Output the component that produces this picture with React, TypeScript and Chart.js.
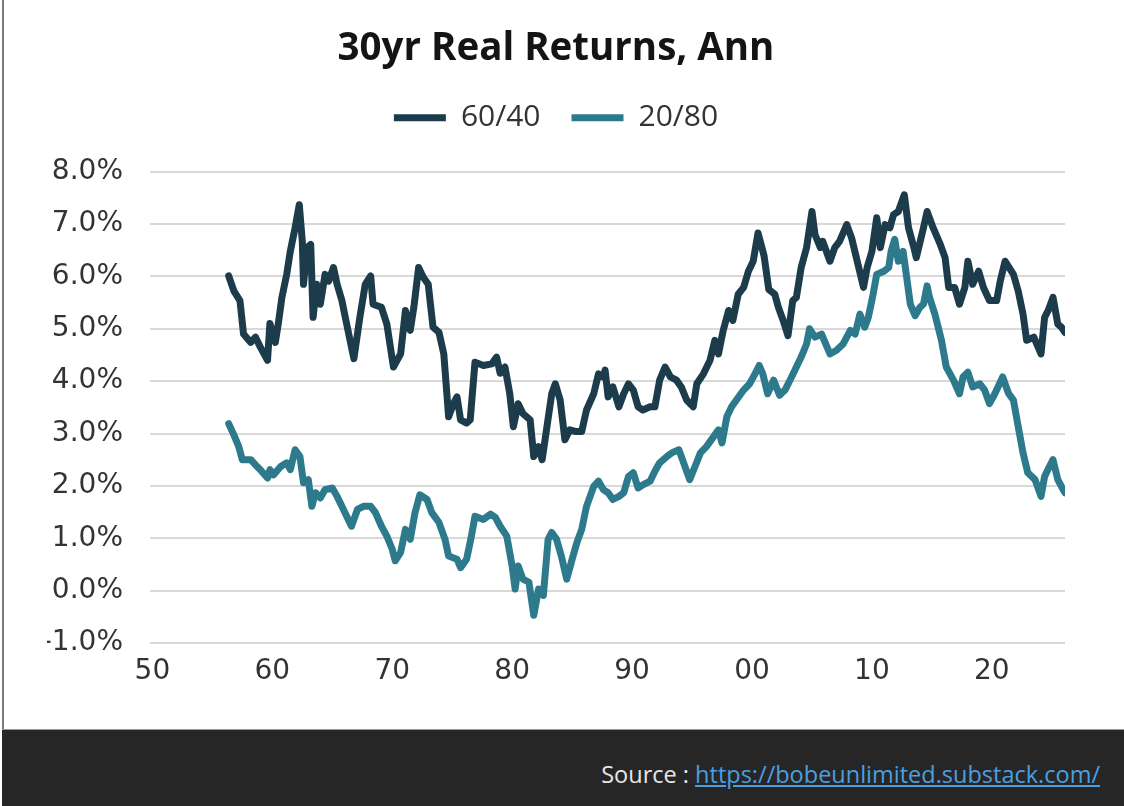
import React, { useEffect, useRef } from 'react';
import { Chart, registerables } from 'chart.js';

Chart.register(...registerables);

const TITLE = '30yr Real Returns, Ann';
const SERIES_NAMES = ['60/40', '20/80'];
const SERIES_COLORS = ['#1c3b4b', '#2e7a8d'];
const X_TICKS = [1950, 1960, 1970, 1980, 1990, 2000, 2010, 2020];
const Y_MIN = -1;
const Y_MAX = 8;

const years6040 = [
  1956.36, 1956.8, 1957.3, 1957.6, 1958.2, 1958.6, 1959.0, 1959.6, 1959.8, 1960.25,
  1960.5, 1960.8, 1961.2, 1961.5, 1961.9, 1962.25, 1962.5, 1962.6, 1962.9, 1963.2,
  1963.4, 1963.7, 1964.0, 1964.4, 1964.7, 1965.1, 1965.4, 1965.8, 1966.2, 1966.8,
  1967.3, 1967.75, 1968.2, 1968.4, 1969.1, 1969.55, 1970.1, 1970.7, 1971.1, 1971.5,
  1971.8, 1972.2, 1972.6, 1973.0, 1973.4, 1973.9, 1974.3, 1974.7, 1975.1, 1975.4,
  1975.7, 1976.2, 1976.5, 1976.9, 1977.6, 1978.3, 1978.7, 1979.0, 1979.4, 1979.8,
  1980.1, 1980.5, 1980.9, 1981.5, 1981.8, 1982.2, 1982.5, 1982.9, 1983.3, 1983.6,
  1984.0, 1984.4, 1984.8, 1985.25, 1985.8, 1986.2, 1986.8, 1987.2, 1987.6, 1987.75,
  1988.0, 1988.4, 1988.9, 1989.3, 1989.7, 1990.1, 1990.5, 1990.9, 1991.5, 1991.9,
  1992.3, 1992.75, 1993.2, 1993.7, 1994.1, 1994.55, 1995.1, 1995.4, 1995.95, 1996.5,
  1996.9, 1997.2, 1997.6, 1998.05, 1998.4, 1998.85, 1999.3, 1999.7, 2000.1, 2000.5,
  2001.0, 2001.4, 2001.9, 2002.2, 2002.6, 2003.0, 2003.4, 2003.7, 2004.1, 2004.55,
  2005.0, 2005.25, 2005.7, 2005.9, 2006.5, 2006.9, 2007.3, 2007.9, 2008.3, 2008.7,
  2009.3, 2009.6, 2010.0, 2010.4, 2010.7, 2011.1, 2011.5, 2011.8, 2012.2, 2012.7,
  2013.05, 2013.5, 2013.7, 2014.3, 2014.6, 2015.1, 2015.7, 2016.1, 2016.4, 2016.9,
  2017.3, 2017.75, 2018.0, 2018.4, 2018.9, 2019.3, 2019.8, 2020.4, 2020.7, 2021.1,
  2021.8, 2022.2, 2022.6, 2022.9, 2023.5, 2024.1, 2024.4, 2024.7, 2025.1, 2025.5,
  2025.8, 2026.1,
];
const values6040 = [
  6.01, 5.72, 5.54, 4.9, 4.74, 4.84, 4.65, 4.4, 5.1, 4.74,
  5.1, 5.6, 6.04, 6.48, 6.93, 7.37, 6.67, 5.85, 6.55, 6.61,
  5.22, 5.85, 5.47, 6.04, 5.91, 6.17, 5.85, 5.54, 5.09, 4.43,
  5.22, 5.85, 6.01, 5.47, 5.41, 5.09, 4.27, 4.52, 5.35, 4.97,
  5.41, 6.17, 5.98, 5.85, 5.03, 4.93, 4.52, 3.32, 3.57, 3.7,
  3.26, 3.2, 3.26, 4.36, 4.3, 4.33, 4.46, 4.15, 4.27, 3.76,
  3.13, 3.57, 3.38, 3.26, 2.56, 2.75, 2.5, 3.13, 3.76, 3.95,
  3.64, 2.88, 3.07, 3.04, 3.04, 3.45, 3.76, 4.14, 4.08, 4.21,
  3.7, 3.89, 3.51, 3.76, 3.95, 3.83, 3.51, 3.45, 3.51, 3.51,
  4.02, 4.27, 4.08, 4.02, 3.89, 3.64, 3.51, 3.95, 4.14, 4.4,
  4.78, 4.52, 4.97, 5.35, 5.16, 5.66, 5.79, 6.1, 6.29, 6.83,
  6.4, 5.75, 5.66, 5.41, 5.16, 4.87, 5.54, 5.6, 6.17, 6.55,
  7.24, 6.8, 6.55, 6.67, 6.29, 6.55, 6.67, 6.99, 6.74, 6.36,
  5.79, 6.17, 6.48, 7.12, 6.55, 6.99, 6.93, 7.18, 7.24, 7.56,
  6.93, 6.55, 6.36, 6.93, 7.24, 6.93, 6.61, 6.36, 5.79, 5.79,
  5.47, 5.79, 6.29, 5.85, 6.1, 5.79, 5.54, 5.54, 5.91, 6.29,
  6.04, 5.72, 5.28, 4.78, 4.84, 4.52, 5.22, 5.35, 5.6, 5.09,
  5.03, 4.93,
];

const years2080 = [
  1956.36, 1956.8, 1957.2, 1957.5, 1958.2, 1958.6, 1959.0, 1959.6, 1959.8, 1960.1,
  1960.7, 1961.2, 1961.5, 1961.9, 1962.3, 1962.6, 1963.0, 1963.3, 1963.6, 1964.0,
  1964.4, 1965.0, 1965.4, 1965.8, 1966.2, 1966.6, 1967.1, 1967.6, 1968.2, 1968.6,
  1969.1, 1969.55, 1970.0, 1970.25, 1970.7, 1971.1, 1971.5, 1971.9, 1972.3, 1972.9,
  1973.3, 1973.9, 1974.4, 1974.7, 1975.4, 1975.7, 1976.2, 1976.55, 1976.9, 1977.6,
  1978.2, 1978.6, 1979.0, 1979.55, 1980.0, 1980.25, 1980.5, 1980.9, 1981.4, 1981.8,
  1982.2, 1982.6, 1983.0, 1983.3, 1983.7, 1984.1, 1984.55, 1985.0, 1985.4, 1985.8,
  1986.2, 1986.8, 1987.2, 1987.6, 1988.0, 1988.4, 1988.9, 1989.3, 1989.7, 1990.1,
  1990.5, 1990.9, 1991.5, 1991.9, 1992.3, 1992.9, 1993.3, 1993.9, 1994.3, 1994.8,
  1995.25, 1995.7, 1996.2, 1996.8, 1997.2, 1997.5, 1997.9, 1998.3, 1998.7, 1999.3,
  1999.8, 2000.25, 2000.6, 2000.9, 2001.3, 2001.8, 2002.3, 2002.75, 2003.3, 2003.7,
  2004.1, 2004.55, 2004.8, 2005.25, 2005.8, 2006.5, 2007.05, 2007.6, 2008.2, 2008.6,
  2009.0, 2009.4, 2009.7, 2010.1, 2010.4, 2011.0, 2011.4, 2011.6, 2011.9, 2012.2,
  2012.6, 2012.9, 2013.2, 2013.6, 2014.0, 2014.3, 2014.6, 2014.8, 2015.25, 2015.8,
  2016.2, 2016.8, 2017.3, 2017.6, 2018.0, 2018.4, 2019.0, 2019.4, 2019.8, 2020.25,
  2020.9, 2021.4, 2021.8, 2022.2, 2022.6, 2023.0, 2023.6, 2024.1, 2024.4, 2024.8,
  2025.1, 2025.5, 2025.8, 2026.1,
];
const values2080 = [
  3.19, 2.97, 2.75, 2.5, 2.5, 2.4, 2.31, 2.15, 2.31, 2.21,
  2.37, 2.44, 2.31, 2.69, 2.56, 2.06, 2.12, 1.61, 1.87, 1.77,
  1.93, 1.96, 1.8, 1.61, 1.42, 1.23, 1.55, 1.61, 1.61, 1.49,
  1.23, 1.04, 0.79, 0.57, 0.73, 1.17, 0.98, 1.49, 1.83, 1.74,
  1.49, 1.3, 0.98, 0.66, 0.6, 0.44, 0.6, 0.98, 1.42, 1.36,
  1.46, 1.4, 1.23, 1.04, 0.47, 0.03, 0.47, 0.22, 0.16, -0.47,
  0.03, -0.09, 0.98, 1.11, 0.98, 0.66, 0.22, 0.6, 0.92, 1.17,
  1.61, 1.99, 2.09, 1.93, 1.87, 1.74, 1.8, 1.87, 2.18, 2.25,
  1.96, 2.02, 2.09, 2.28, 2.44, 2.56, 2.63, 2.69, 2.44, 2.12,
  2.37, 2.63, 2.75, 2.94, 3.07, 2.82, 3.32, 3.51, 3.64, 3.83,
  3.95, 4.14, 4.3, 4.14, 3.76, 4.02, 3.73, 3.83, 4.08, 4.27,
  4.46, 4.71, 5.0, 4.84, 4.9, 4.52, 4.59, 4.71, 4.97, 4.9,
  5.28, 5.03, 5.22, 5.66, 6.04, 6.1, 6.17, 6.48, 6.71, 6.29,
  6.48, 5.98, 5.47, 5.25, 5.41, 5.47, 5.82, 5.6, 5.28, 4.78,
  4.27, 4.02, 3.76, 4.08, 4.17, 3.89, 3.95, 3.83, 3.57, 3.76,
  4.08, 3.76, 3.64, 3.13, 2.63, 2.25, 2.12, 1.8, 2.18, 2.37,
  2.5, 2.12, 1.99, 1.87,
];

const SOURCE_LABEL = 'Source : ';
const SOURCE_URL = 'https://bobeunlimited.substack.com/';

export default function App() {
  const canvasRef = useRef<HTMLCanvasElement | null>(null);

  useEffect(() => {
    document.body.style.margin = '0';
    const canvas = canvasRef.current;
    if (!canvas) return;
    const tickFont = { family: "'DejaVu Sans', Verdana, sans-serif", size: 28 };
    const chart = new Chart(canvas, {
      type: 'line',
      data: {
        datasets: [
          {
            label: SERIES_NAMES[0],
            data: years6040.map((x, i) => ({ x, y: values6040[i] })),
            borderColor: SERIES_COLORS[0],
            backgroundColor: SERIES_COLORS[0],
            borderWidth: 7,
            pointRadius: 0,
            tension: 0,
            borderCapStyle: 'round',
            borderJoinStyle: 'round',
          },
          {
            label: SERIES_NAMES[1],
            data: years2080.map((x, i) => ({ x, y: values2080[i] })),
            borderColor: SERIES_COLORS[1],
            backgroundColor: SERIES_COLORS[1],
            borderWidth: 7,
            pointRadius: 0,
            tension: 0,
            borderCapStyle: 'round',
            borderJoinStyle: 'round',
          },
        ],
      },
      options: {
        animation: false,
        responsive: false,
        maintainAspectRatio: false,
        layout: { padding: { left: 47, right: 59, top: 0, bottom: 0 } },
        plugins: {
          title: {
            display: true,
            text: TITLE,
            color: '#141414',
            font: { family: "'Open Sans', sans-serif", size: 38.5, weight: 'bold', lineHeight: 1.2 },
            padding: { top: 25.5, bottom: 0 },
          },
          subtitle: {
            display: true,
            text: '',
            weight: 500,
            font: { size: 10, lineHeight: 1 },
            padding: { top: 19, bottom: 0 },
          },
          legend: {
            display: true,
            labels: {
              usePointStyle: true,
              pointStyle: 'line',
              pointStyleWidth: 52,
              padding: 31,
              color: '#333333',
              font: { family: "'Open Sans', sans-serif", size: 30 },
            },
          },
          tooltip: { enabled: false },
        },
        scales: {
          x: {
            type: 'linear',
            min: 1949.8,
            max: 2026.1,
            afterBuildTicks: (s: any) => {
              s.ticks = X_TICKS.map((v) => ({ value: v }));
            },
            afterFit: (s: any) => {
              s.height = 86;
            },
            grid: { display: false },
            border: { display: false },
            ticks: {
              padding: 4,
              autoSkip: false,
              maxRotation: 0,
              color: '#333333',
              font: tickFont,
              callback: (v: any) => String(v).slice(2),
            },
          },
          y: {
            min: Y_MIN,
            max: Y_MAX,
            afterFit: (s: any) => {
              s.width = 103;
            },
            grid: { color: '#d9d9d9', lineWidth: 2, drawTicks: false },
            border: { display: false },
            ticks: {
              stepSize: 1,
              padding: 27,
              color: '#333333',
              font: tickFont,
              callback: (v: any) => Number(v).toFixed(1) + '%',
            },
          },
        },
      },
    });
    return () => chart.destroy();
  }, []);

  return (
    <div
      style={{
        position: 'fixed',
        left: 0,
        top: 0,
        width: 1124,
        height: 806,
        background: '#ffffff',
        overflow: 'hidden',
      }}
    >
      <canvas ref={canvasRef} width={1124} height={729} style={{ position: 'absolute', left: 0, top: 0, display: 'block' }} />
      <div style={{ position: 'absolute', left: 2, top: 0, width: 2, height: 729, background: '#7a7a7a' }} />
      <div
        style={{
          position: 'absolute',
          left: 2,
          top: 729,
          width: 1122,
          height: 77,
          background: '#262626',
          borderTop: '1px solid #9a9a9a',
          boxSizing: 'border-box',
        }}
      >
        <div
          style={{
            position: 'absolute',
            right: 24,
            top: 30,
            fontFamily: "'Open Sans', sans-serif",
            fontSize: 23.5,
            lineHeight: '28px',
            color: '#e6e6e6',
            whiteSpace: 'nowrap',
          }}
        >
          {SOURCE_LABEL}
          <a href={SOURCE_URL} style={{ color: '#4a9fe0', textDecoration: 'underline' }}>
            {SOURCE_URL}
          </a>
        </div>
      </div>
    </div>
  );
}
